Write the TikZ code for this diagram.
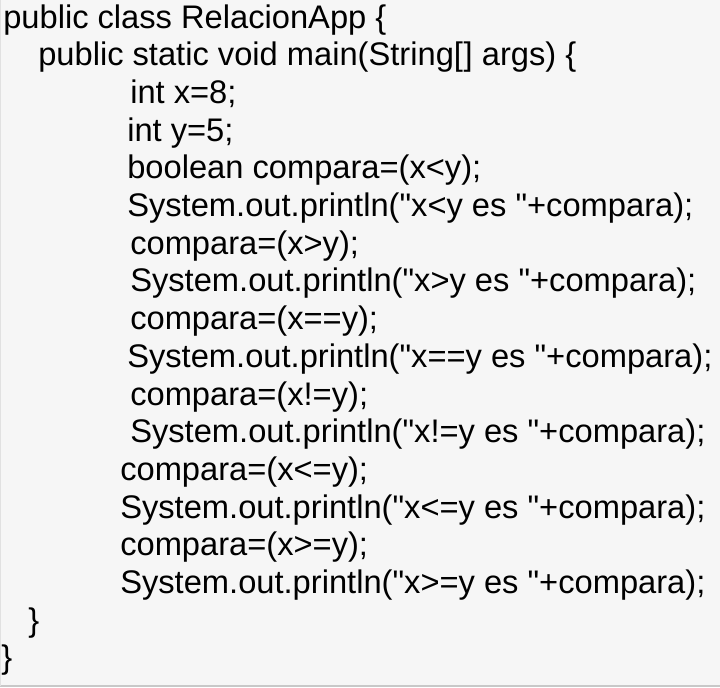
\documentclass[tikz,border=0pt]{standalone}
\usepackage{fontspec}
\newfontfamily\codefont{Liberation Sans}

\begin{document}
\begin{tikzpicture}[x=0.75pt,y=0.75pt,yscale=-1,xscale=1]
\tikzset{codeline/.style={anchor=base west,inner sep=0pt,text=black,font=\codefont\fontsize{24.5}{29}\selectfont}}
%set diagram to 720 x 687
\useasboundingbox (0,0) rectangle (720,687);

%Shape: Rectangle [background]
\fill [fill={rgb, 255:red, 246; green, 246; blue, 246 }] (0,0) rectangle (720,687) ;
%Straight Lines [bottom edge]
\draw [color={rgb, 255:red, 200; green, 200; blue, 200 }, line width=2] (0,686) -- (720,686) ;
%Straight Lines [left edge]
\draw [color={rgb, 255:red, 225; green, 225; blue, 225 }, line width=1] (0.5,0) -- (0.5,686) ;

%Text Node [class]
\node [codeline] (cls) at (3,28) {public class RelacionApp \{};
%Text Node [main]
\node [codeline] (mainm) at (38,65.7) {public static void main(String[\kern0.5pt] args) \{};
%Text Node [x]
\node [codeline] (intx) at (130,103.4) {int x=8;};
%Text Node [y]
\node [codeline] (inty) at (127,141.1) {int y=5;};
%Text Node [menor]
\node [codeline] (cmpmenor) at (127,178.8) {boolean compara=(x<y);};
\node [codeline] (outmenor) at (127,216.5) {System.out.println("x<y es "+compara);};
%Text Node [mayor]
\node [codeline] (cmpmayor) at (130,254.2) {compara=(x>y);};
\node [codeline] (outmayor) at (130,291.9) {System.out.println("x>y es "+compara);};
%Text Node [igual]
\node [codeline] (cmpigual) at (130,329.6) {compara=(x==y);};
\node [codeline] (outigual) at (127,367.3) {System.out.println("x==y es "+compara);};
%Text Node [distinto]
\node [codeline] (cmpdist) at (130,405) {compara=(x!=y);};
\node [codeline] (outdist) at (130,442.7) {System.out.println("x!=y es "+compara);};
%Text Node [menor o igual]
\node [codeline] (cmpmenig) at (120,480.4) {compara=(x<=y);};
\node [codeline] (outmenig) at (120,518.1) {System.out.println("x<=y es "+compara);};
%Text Node [mayor o igual]
\node [codeline] (cmpmayig) at (120,555.8) {compara=(x>=y);};
\node [codeline] (outmayig) at (120,593.5) {System.out.println("x>=y es "+compara);};
%Text Node [closing braces]
\node [codeline] (endmain) at (28,631.2) {\}};
\node [codeline] (endcls) at (1,668.9) {\}};

\end{tikzpicture}
\end{document}
